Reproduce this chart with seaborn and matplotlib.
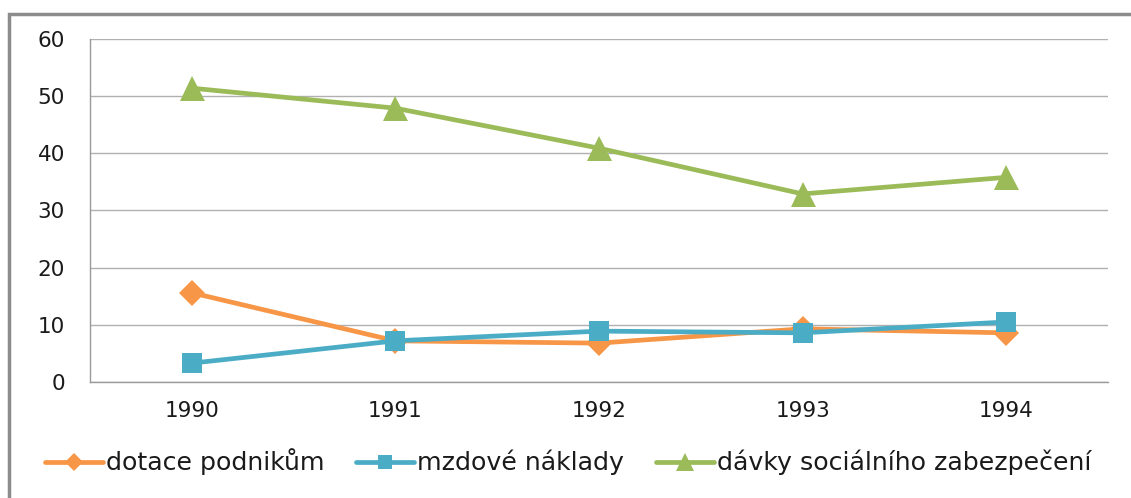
import matplotlib
matplotlib.use("Agg")
import matplotlib.pyplot as plt
import seaborn as sns
import pandas as pd
from matplotlib.patches import Rectangle
from matplotlib.lines import Line2D

years = ["1990", "1991", "1992", "1993", "1994"]
dotace = [15.6, 7.2, 6.8, 9.3, 8.6]
mzdove = [3.3, 7.2, 8.9, 8.6, 10.5]
davky = [51.4, 47.9, 40.9, 32.9, 35.8]
series_names = ["dotace podnikům", "mzdové náklady", "dávky sociálního zabezpečení"]
y_ticks = [0, 10, 20, 30, 40, 50, 60]

colors = ["#F79646", "#4BACC6", "#9BBB59"]
markers = ["D", "s", "^"]
msizes = [13, 15, 18]

sns.set_style("white")
plt.rcParams["font.family"] = ["DejaVu Sans"]

fig = plt.figure(figsize=(11.31, 4.98), dpi=100)
ax = fig.add_axes([90 / 1131, 1 - 382 / 498, (1108 - 90) / 1131, (382 - 39) / 498])

idx = list(range(len(years)))
for name, vals, c, m, ms in zip(series_names, [dotace, mzdove, davky], colors, markers, msizes):
    df = pd.DataFrame({"x": idx, "y": vals})
    sns.lineplot(data=df, x="x", y="y", ax=ax, color=c, linewidth=3.4,
                 marker=m, markersize=ms, markeredgewidth=0, zorder=3)

ax.set_xlim(-0.5, len(years) - 0.5)
ax.set_ylim(0, 60)
ax.set_yticks(y_ticks)
ax.set_yticklabels([str(t) for t in y_ticks], fontsize=15.5, color="#1a1a1a")
ax.set_xticks(idx)
ax.set_xticklabels(years, fontsize=15.5, color="#1a1a1a")
ax.set_xticks([i - 0.5 for i in range(len(years) + 1)], minor=True)
ax.tick_params(axis="x", which="major", length=0, pad=14)
ax.tick_params(axis="x", which="minor", length=7, width=1, color="#999999", direction="out")
ax.tick_params(axis="y", which="major", length=7, width=1, color="#999999", direction="out", pad=11)
ax.set_xlabel("")
ax.set_ylabel("")
ax.grid(axis="y", color="#b0b0b0", linewidth=1)
ax.set_axisbelow(True)
for s in ["top", "right"]:
    ax.spines[s].set_visible(False)
for s in ["left", "bottom"]:
    ax.spines[s].set_color("#999999")
    ax.spines[s].set_linewidth(1)

handles = [Line2D([0], [0], color=c, linewidth=3.4, marker=m, markersize=ms * 0.7, markeredgewidth=0)
           for c, m, ms in zip(colors, markers, msizes)]
leg = fig.legend(handles, series_names, loc="center left", bbox_to_anchor=(45 / 1131, 1 - 462 / 498),
                 ncol=3, frameon=False, handlelength=2.3, handletextpad=0.12, columnspacing=1.25,
                 borderpad=0, borderaxespad=0,
                 prop={"family": ["DejaVu Sans"], "size": 18.2})
for t in leg.get_texts():
    t.set_color("#1a1a1a")

fig.patches.append(Rectangle((9 / 1131, -0.1), 1.2, 1 - 14 / 498 + 0.1, transform=fig.transFigure,
                             fill=False, edgecolor="#8c8c8c", linewidth=2.5, zorder=0))

fig.savefig("out.png", dpi=100)
